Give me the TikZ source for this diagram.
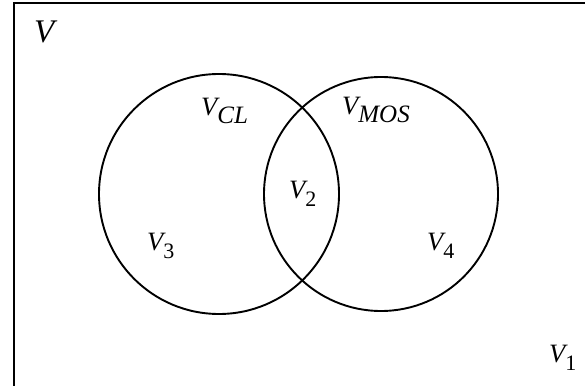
\documentclass[tikz,border=0pt]{standalone}
\usepackage{fontspec}
\setmainfont{Liberation Serif}
\newcommand{\lblsub}[1]{\raisebox{-8pt}{\fontsize{22}{22}\selectfont #1}}
\newcommand{\lblsubbig}[1]{\raisebox{-8pt}{\fontsize{25}{25}\selectfont #1}}
\tikzset{
  setline/.style={line width=1.9pt, draw=black},
  lbl/.style={anchor=base west, inner sep=0pt, font=\fontsize{26.5}{26.5}\selectfont\itshape},
  biglbl/.style={anchor=base west, inner sep=0pt, font=\fontsize{33}{33}\selectfont\itshape}
}
\begin{document}
\begin{tikzpicture}[x=1pt,y=-1pt]
\useasboundingbox (0,0) rectangle (585,385);
\clip (0,0) rectangle (585,385);
\fill[white] (0,0) rectangle (585,385);
\draw[setline] (14,3) rectangle (600,400);
\node[setline, draw, circle, minimum size=240pt, inner sep=0pt] (cl) at (219,194) {};
\node[setline, draw, circle, minimum size=234pt, inner sep=0pt] (mos) at (381,194) {};
\node[biglbl] (v) at (34,43) {V};
\node[lbl] (vcl) at (201,115) {V\lblsubbig{\itshape CL}};
\node[lbl] (vmos) at (342,114) {V\lblsubbig{\itshape MOS}};
\node[lbl] (v2) at (289,198) {V\lblsub{\upshape 2}};
\node[lbl] (v3) at (147,250) {V\lblsub{\upshape 3}};
\node[lbl] (v4) at (427,250) {V\lblsub{\upshape 4}};
\node[lbl] (v1) at (549,362) {V\lblsub{\upshape 1}};
\end{tikzpicture}
\end{document}
